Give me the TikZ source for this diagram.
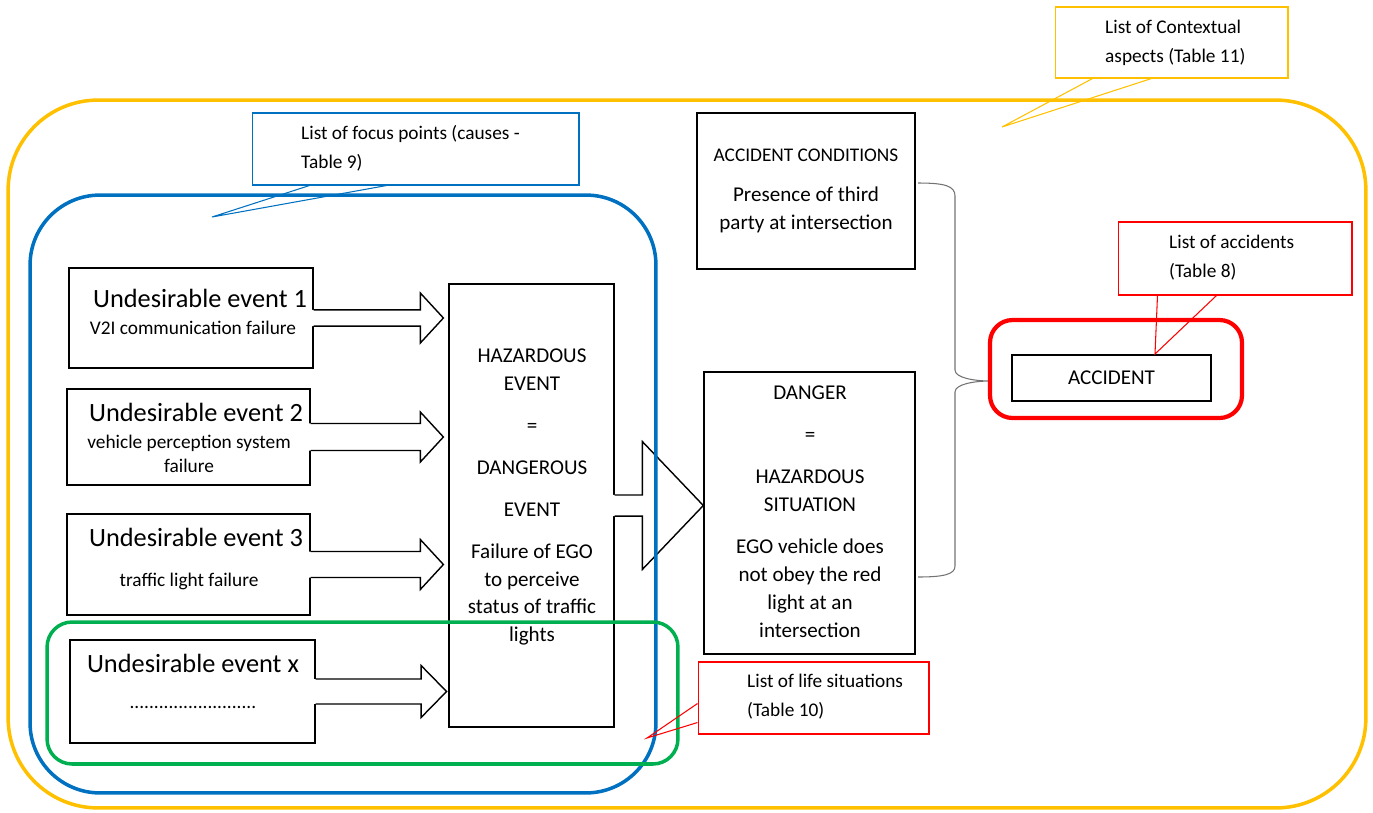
\documentclass[tikz,border=0pt]{standalone}
\usepackage{fontspec}
\setmainfont{Carlito}
\usetikzlibrary{calc}

\definecolor{ctxyellow}{HTML}{FFC000}
\definecolor{focusblue}{HTML}{0070C0}
\definecolor{lifegreen}{HTML}{00B050}
\definecolor{accred}{HTML}{FF0000}

\tikzset{
  box/.style={draw, line width=0.8pt, inner sep=0pt},
  frame/.style={draw, line width=2pt, inner sep=0pt},
  callout/.style={draw, line width=0.6pt, inner sep=0pt},
  calltext/.style={anchor=west, align=left, font=\fontsize{11}{16.5}\selectfont},
  bigtext/.style={font=\fontsize{15}{18}\selectfont},
  smalltext/.style={align=center, font=\fontsize{11}{13.7}\selectfont},
  midtext/.style={align=center, font=\fontsize{12}{15.9}\selectfont},
  arrowline/.style={draw, line width=0.8pt},
  bracestyle/.style={draw=black!55, line width=0.6pt}
}

% fat block arrow: from, to, shaft half, head half, head length, gap
\newcommand\fatarrow[6]{%
  \fill[white] let \p1=(#1.east), \p2=(#2.west) in
    (\x1-1.5pt,\y1+#3) -- (\x2-#6-#5,\y1+#3) -- (\x2-#6-#5,\y1+#4) -- (\x2-#6,\y1)
    -- (\x2-#6-#5,\y1-#4) -- (\x2-#6-#5,\y1-#3) -- (\x1-1.5pt,\y1-#3) -- cycle;
  \draw[arrowline] let \p1=(#1.east), \p2=(#2.west) in
    (\x1,\y1+#3) -- (\x2-#6-#5,\y1+#3) -- (\x2-#6-#5,\y1+#4) -- (\x2-#6,\y1)
    -- (\x2-#6-#5,\y1-#4) -- (\x2-#6-#5,\y1-#3) -- (\x1,\y1-#3);
}

\begin{document}
\begin{tikzpicture}[x=0.02cm, y=-0.02cm]
\useasboundingbox (0,0) rectangle (1373,812);

% event boxes
\node (ev1)[box, minimum width=4.88cm, minimum height=2.00cm] at (191,318) {};
\node (ev2)[box, minimum width=4.86cm, minimum height=1.92cm] at (188.5,437) {};
\node (ev3)[box, minimum width=4.86cm, minimum height=2.02cm] at (188.5,564.5) {};
\node (evx)[box, minimum width=4.90cm, minimum height=2.06cm] at (192.5,691.5) {};
\node (ev1t)[bigtext] at (200,298) {Undesirable event 1};
\node (ev1s)[smalltext] at (193,328) {V2I communication failure};
\node (ev2t)[bigtext] at (196,412) {Undesirable event 2};
\node (ev2s)[smalltext] at (189,454) {vehicle perception system\\failure};
\node (ev3t)[bigtext] at (196,537) {Undesirable event 3};
\node (ev3s)[smalltext] at (189,581) {traffic light failure};
\node (evxt)[bigtext] at (193,663) {Undesirable event x};
\node (evxs)[smalltext] at (193,707) {..........................};

% hazardous event and danger
\node (haz)[box, minimum width=3.30cm, minimum height=8.86cm] at (531.5,505.5) {};
\node (hazt)[midtext] at (532,497) {HAZARDOUS\\EVENT\\[8pt]=\\[8pt]DANGEROUS\\[8pt]EVENT\\[8pt]Failure of EGO\\to perceive\\status of traffic\\lights};
\node (dang)[box, minimum width=4.22cm, minimum height=5.64cm] at (809.5,513) {};
\node (dangt)[midtext] at (810,512) {DANGER\\[8pt]=\\[8pt]HAZARDOUS\\SITUATION\\[8pt]EGO vehicle does\\not obey the red\\light at an\\intersection};

% accident conditions
\node (cond)[box, minimum width=4.36cm, minimum height=3.12cm] at (806,191) {};
\node (condt)[font=\fontsize{11}{13}\selectfont] at (806,155) {ACCIDENT CONDITIONS};
\node (conds)[midtext] at (806,210) {Presence of third\\party at intersection};

% accident
\node (acc)[box, minimum width=3.98cm, minimum height=0.92cm, font=\fontsize{12}{14}\selectfont] at (1111.5,378) {ACCIDENT};

% block arrows
\fatarrow{ev1}{haz}{4.6pt}{14.2pt}{13.1pt}{2.8pt}
\fatarrow{ev2}{haz}{7.7pt}{14.2pt}{13.1pt}{2.8pt}
\fatarrow{ev3}{haz}{7.4pt}{14.2pt}{13.1pt}{2.8pt}
\fatarrow{evx}{haz}{7.1pt}{14.8pt}{14.5pt}{1pt}
\fatarrow{haz}{dang}{6pt}{36.4pt}{34.7pt}{0pt}

% brace towards the accident
\coordinate (bt) at (918,183);
\coordinate (bb) at (918,577);
\coordinate (btip) at (990,381);
\draw[bracestyle] (bt) .. controls (945,183) and (955,186) .. (955,196) -- (955,370)
  .. controls (955,378) and (975,381) .. (btip)
  .. controls (975,381) and (955,384) .. (955,392) -- (955,566)
  .. controls (955,574) and (945,577) .. (bb);

% frames
\node (ctxframe)[frame, draw=ctxyellow, rounded corners=1.8cm, minimum width=27.16cm, minimum height=14.16cm] at (687,454) {};
\node (focframe)[frame, draw=focusblue, rounded corners=1.4cm, minimum width=12.52cm, minimum height=11.96cm] at (343,494) {};
\node (lifeframe)[frame, draw=lifegreen, rounded corners=0.5cm, minimum width=12.62cm, minimum height=2.84cm] at (362.5,693) {};
\node (accframe)[frame, draw=accred, line width=2.4pt, rounded corners=0.45cm, minimum width=5.04cm, minimum height=1.96cm] at (1116,369) {};

% callouts
\node (ctxcall)[callout, draw=ctxyellow, minimum width=4.66cm, minimum height=1.42cm] at (1171.5,42.5) {};
\node (ctxtext)[calltext] at (1099,42.5) {List of Contextual\\aspects (Table 11)};
\coordinate (ctxtip) at (1002,127);
\draw[ctxyellow, line width=0.6pt] ($(ctxcall.south west)+(38,0)$) -- (ctxtip) -- ($(ctxcall.south west)+(97,0)$);

\node (foccall)[callout, draw=focusblue, minimum width=6.54cm, minimum height=1.44cm] at (415.5,149) {};
\node (foctext)[calltext] at (295,148.5) {List of focus points (causes -\\Table 9)};
\coordinate (foctip) at (212,217);
\draw[focusblue, line width=0.6pt] ($(foccall.south west)+(58,0)$) -- (foctip) -- ($(foccall.south west)+(135,0)$);

\node (acccall)[callout, draw=accred, minimum width=4.68cm, minimum height=1.46cm] at (1235,258.5) {};
\node (acctext)[calltext] at (1163,257.5) {List of accidents\\(Table 8)};
\coordinate (acctip) at (1155,354);
\draw[accred, line width=0.6pt] ($(acccall.south west)+(40,0)$) -- (acctip) -- ($(acccall.south west)+(99,0)$);

\node (lifecall)[callout, draw=accred, minimum width=4.62cm, minimum height=1.44cm] at (813.5,698) {};
\node (lifetext)[calltext] at (741,697) {List of life situations\\(Table 10)};
\coordinate (lifetip) at (647,738);
\draw[accred, line width=0.6pt] ($(lifecall.south west)+(0,-31)$) -- (lifetip) -- ($(lifecall.south west)+(0,-12)$);
\end{tikzpicture}
\end{document}
